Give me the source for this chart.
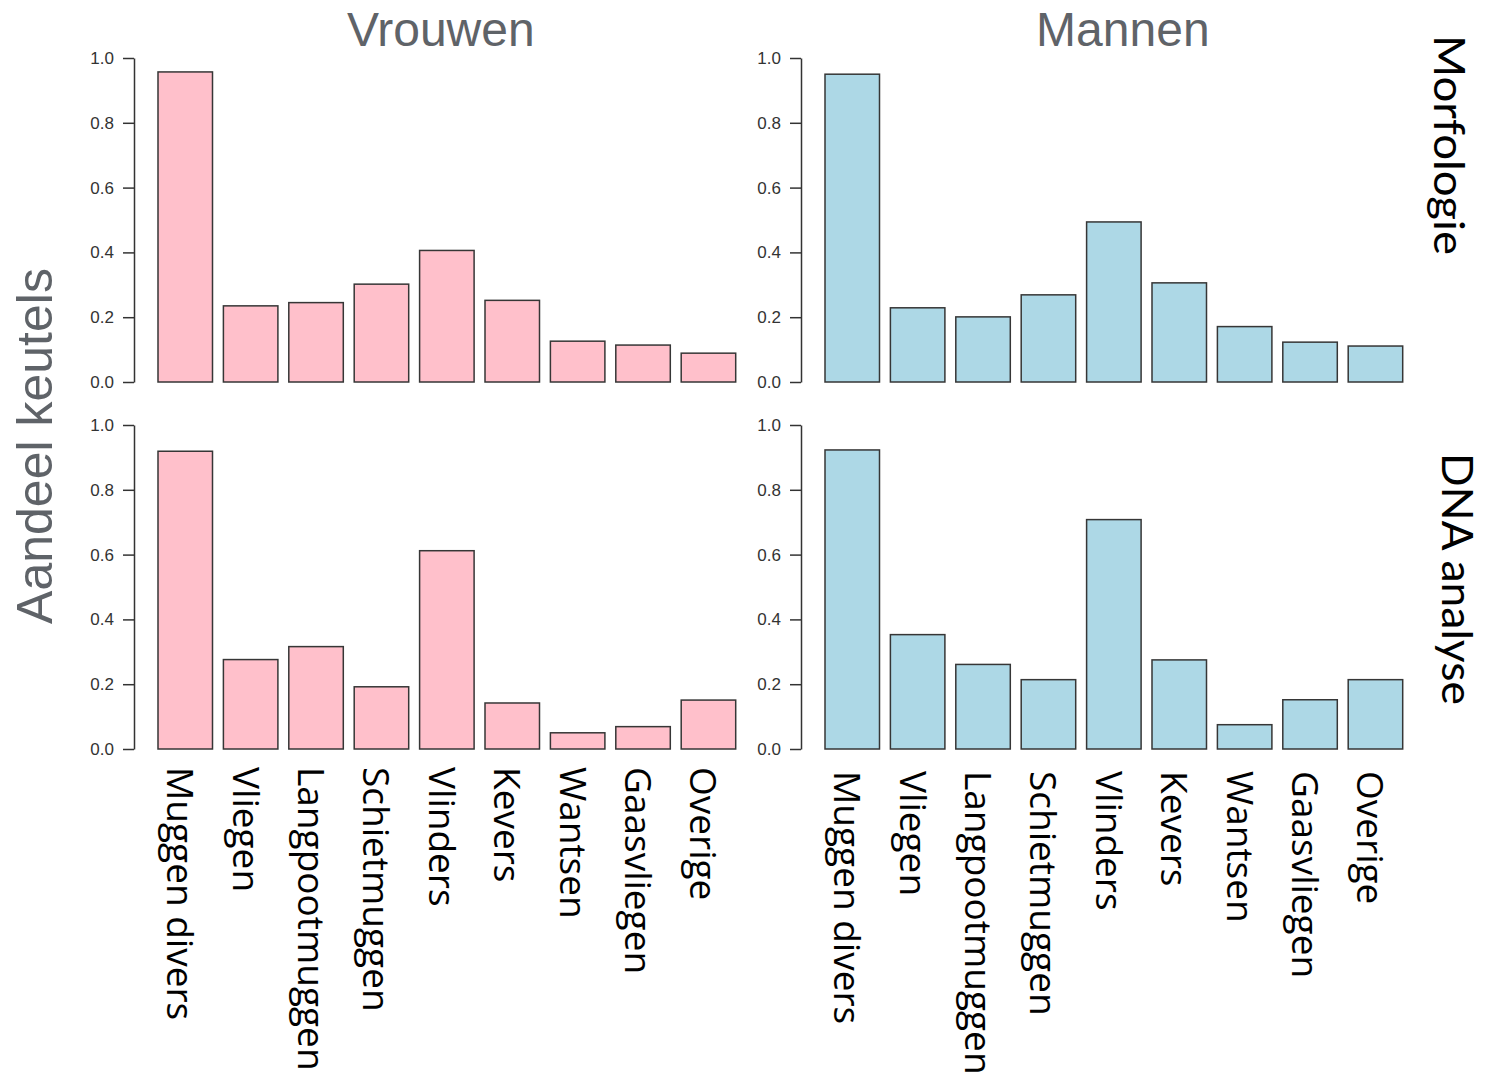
<!DOCTYPE html>
<html>
<head>
<meta charset="utf-8">
<script src="https://cdn.jsdelivr.net/npm/d3@7"></script>
<style>
  html, body { margin: 0; padding: 0; background: #fff; }
</style>
</head>
<body>
<div id="chart"></div>
<script>
(function () {
  let categories = ['Muggen divers', 'Vliegen', 'Langpootmuggen', 'Schietmuggen', 'Vlinders', 'Kevers', 'Wantsen', 'Gaasvliegen', 'Overige'];

  let vrouwenMorfologie = [0.957, 0.235, 0.245, 0.302, 0.406, 0.252, 0.126, 0.114, 0.089];
  let mannenMorfologie = [0.950, 0.229, 0.201, 0.269, 0.494, 0.306, 0.171, 0.123, 0.111];
  let vrouwenDNA = [0.919, 0.276, 0.316, 0.192, 0.612, 0.142, 0.050, 0.069, 0.151];
  let mannenDNA = [0.923, 0.353, 0.261, 0.214, 0.708, 0.275, 0.075, 0.152, 0.214];

  let yTicks = [0, 0.2, 0.4, 0.6, 0.8, 1.0];
  let columnTitles = ['Vrouwen', 'Mannen'];
  let rowTitles = ['Morfologie', 'DNA analyse'];
  let yTitle = 'Aandeel keutels';

  let width = 1488;
  let height = 1082;
  let axisX = [134, 801];
  let plotTop = [58, 425];
  let plotHeight = 324;
  let barGap = 24;
  let barSpan = 577.7;
  let titleShift = [-6, 9];
  let fills = ['#ffc0cb', '#add8e6'];

  let panels = [
    { values: vrouwenMorfologie, col: 0, row: 0 },
    { values: mannenMorfologie, col: 1, row: 0 },
    { values: vrouwenDNA, col: 0, row: 1 },
    { values: mannenDNA, col: 1, row: 1 }
  ];

  let svg = d3
    .select('#chart')
    .append('svg')
    .attr('width', width)
    .attr('height', height);

  panels.forEach((p) => {
    let left = axisX[p.col] + barGap;
    let top = plotTop[p.row];

    let xscale = d3
      .scaleBand()
      .domain(categories)
      .range([left, left + barSpan])
      .paddingInner(1 / 6)
      .paddingOuter(0);

    let yscale = d3
      .scaleLinear()
      .domain([0, 1])
      .range([top + plotHeight, top]);

    let g = svg.append('g');

    let axis = g
      .append('g')
      .attr('transform', `translate(${axisX[p.col]}, 0)`)
      .call(
        d3
          .axisLeft(yscale)
          .tickValues(yTicks)
          .tickFormat(d3.format('.1f'))
          .tickSize(11)
          .tickSizeOuter(0)
          .tickPadding(9)
      );

    axis.selectAll('path, line').attr('stroke', '#333').attr('stroke-width', 1.5);
    axis
      .selectAll('text')
      .attr('fill', '#333')
      .style('font-family', '"Liberation Sans", Arial, sans-serif')
      .style('font-size', '17px');

    g.selectAll('rect')
      .data(p.values)
      .enter()
      .append('rect')
      .attr('x', (d, i) => xscale(categories[i]))
      .attr('y', (d) => yscale(d))
      .attr('width', xscale.bandwidth())
      .attr('height', (d) => yscale(0) - yscale(d))
      .attr('fill', fills[p.col])
      .attr('stroke', '#363636')
      .attr('stroke-width', 1.5);

    if (p.row === 0) {
      svg
        .append('text')
        .attr('x', left + barSpan / 2 + titleShift[p.col])
        .attr('y', 46)
        .attr('text-anchor', 'middle')
        .attr('fill', '#5f6368')
        .style('font-family', '"Liberation Sans", Arial, sans-serif')
        .style('font-size', '48px')
        .text(columnTitles[p.col]);
    }

    if (p.row === 1) {
      g.selectAll('.cat')
        .data(categories)
        .enter()
        .append('text')
        .attr('class', 'cat')
        .attr('transform', (d) => `translate(${xscale(d) + xscale.bandwidth() / 2 - 18}, ${767 + p.col * 4}) rotate(90)`)
        .attr('fill', '#000')
        .style('font-family', '"Open Sans", sans-serif')
        .style('font-size', '37px')
        .text((d) => d);
    }
  });

  // rij titels rechts
  let rowTitleX = [1434, 1442];
  let rowTitleY = [145, 579];
  let rowTitleLen = [220, 252];
  rowTitles.forEach((t, i) => {
    svg
      .append('text')
      .attr('transform', `translate(${rowTitleX[i]}, ${rowTitleY[i]}) rotate(90)`)
      .attr('text-anchor', 'middle')
      .attr('textLength', rowTitleLen[i])
      .attr('lengthAdjust', 'spacingAndGlyphs')
      .attr('fill', '#000')
      .style('font-family', 'Lato, sans-serif')
      .style('font-size', '42px')
      .text(t);
  });

  svg
    .append('text')
    .attr('transform', 'translate(52, 446) rotate(-90)')
    .attr('text-anchor', 'middle')
    .attr('fill', '#5f6368')
    .style('font-family', '"Liberation Sans", Arial, sans-serif')
    .style('font-size', '50px')
    .text(yTitle);
})();
</script>
</body>
</html>
